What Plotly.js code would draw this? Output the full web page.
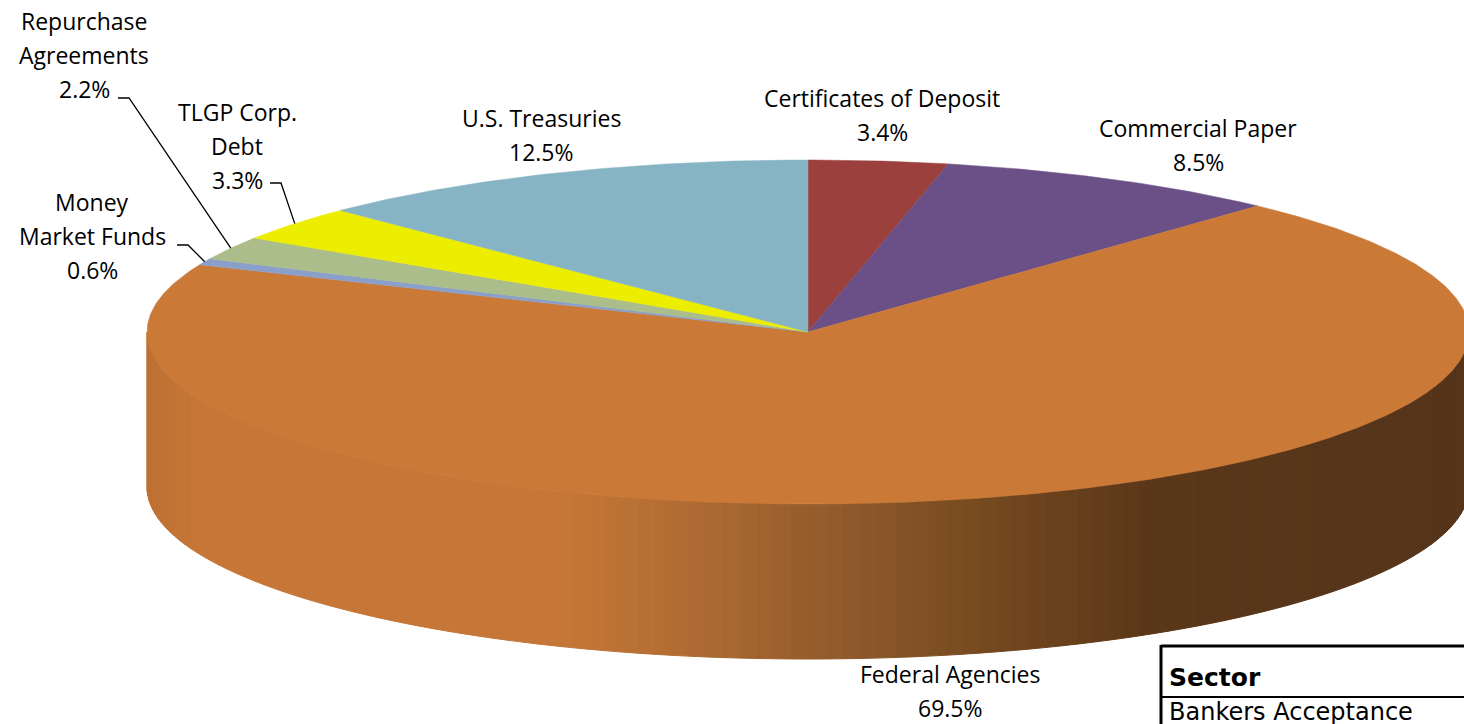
<!DOCTYPE html>
<html>
<head>
<meta charset="utf-8">
<script src="https://cdn.plot.ly/plotly-3.0.1.min.js"></script>
<style>html,body{margin:0;padding:0;background:#fff;}#chart{width:1464px;height:724px;}</style>
</head>
<body>
<div id="chart"></div>
<script>
// ---- data ----
const categories = ['Certificates of Deposit', 'Commercial Paper', 'Federal Agencies', 'Money Market Funds', 'Repurchase Agreements', 'TLGP Corp. Debt', 'U.S. Treasuries'];
const values = [3.4, 8.5, 69.5, 0.6, 2.2, 3.3, 12.5];
const labelLines = [['Certificates of Deposit'], ['Commercial Paper'], ['Federal Agencies'], ['Money', 'Market Funds'], ['Repurchase', 'Agreements'], ['TLGP Corp.', 'Debt'], ['U.S. Treasuries']];
const tableHeader = ['Sector'];
const tableRows = ['Bankers Acceptance'];

// ---- styling / layout ----
const colors = ['#9C403E', '#6A5087', '#CA7937', '#8A9FC9', '#AABD8B', '#EDED00', '#87B4C5'];
const labelPos = [[882, 98], [1198, 128], [950, 674], [92, 202], [84, 21], [237, 112], [541, 118]];
const lineGap = 34;
const leader = [null, null, null, [177, 245], [118, 98], [270, 183], null];
const cx = 808, cy = 332, rx = 661, ry = 172, depth = 155;

function pt(deg, dy) {
  const r = deg * Math.PI / 180;
  return [cx + rx * Math.sin(r), cy - ry * Math.cos(r) + (dy || 0)];
}
function hex(c) { return [parseInt(c.slice(1, 3), 16), parseInt(c.slice(3, 5), 16), parseInt(c.slice(5, 7), 16)]; }
const shadeStops = [[140, '#BC6F32'], [200, '#C67737'], [560, '#C67737'], [700, '#AD6A32'], [850, '#8E592B'], [1000, '#73471F'], [1150, '#5A3719'], [1470, '#55341A']];
function shade(x) {
  for (let i = 0; i < shadeStops.length - 1; i++) {
    const [x0, c0] = shadeStops[i], [x1, c1] = shadeStops[i + 1];
    if (x <= x1) {
      const t = Math.max(0, Math.min(1, (x - x0) / (x1 - x0)));
      const a = hex(c0), b = hex(c1);
      return 'rgb(' + a.map((v, k) => Math.round(v + (b[k] - v) * t)).join(',') + ')';
    }
  }
  return shadeStops[shadeStops.length - 1][1];
}

const traces = [];
const total = values.reduce((a, b) => a + b, 0);
const starts = [];
let acc = 0;
values.forEach(v => { starts.push(acc / total * 360); acc += v; });
// side wall (front half of the disc)
const step = 1.5;
for (let a = 90; a < 270; a += step) {
  const b = Math.min(a + step, 270);
  const mid = (a + b) / 2;
  let idx = 0;
  for (let i = 0; i < values.length; i++) if (mid >= starts[i]) idx = i;
  const p1 = pt(a), p2 = pt(b), p3 = pt(b, depth), p4 = pt(a, depth);
  const col = idx === 2 ? shade((p1[0] + p2[0]) / 2) : colors[idx];
  traces.push({
    type: 'scatter', mode: 'lines', fill: 'toself', hoverinfo: 'skip',
    x: [p1[0], p2[0], p3[0], p4[0], p1[0]], y: [p1[1], p2[1], p3[1], p4[1], p1[1]],
    fillcolor: col, line: { color: col, width: 1 }
  });
}
// top face slices
values.forEach((v, i) => {
  const a0 = starts[i], a1 = starts[i] + v / total * 360;
  const xs = [cx], ys = [cy];
  for (let a = a0; a < a1; a += 0.5) { const p = pt(a); xs.push(p[0]); ys.push(p[1]); }
  const pe = pt(a1); xs.push(pe[0]); ys.push(pe[1]);
  xs.push(cx); ys.push(cy);
  traces.push({
    type: 'scatter', mode: 'lines', fill: 'toself', hoverinfo: 'skip', name: categories[i],
    x: xs, y: ys, fillcolor: colors[i], line: { color: colors[i], width: 0.5 }
  });
});

// labels
const annotations = [];
const shapes = [];
const lblFont = { family: 'Open Sans', size: 23, color: '#000' };
values.forEach((v, i) => {
  const lines = labelLines[i].concat([v.toFixed(1) + '%']);
  lines.forEach((t, k) => {
    annotations.push({ x: labelPos[i][0], y: labelPos[i][1] + k * lineGap, xref: 'x', yref: 'y', text: t, showarrow: false, xanchor: 'center', yanchor: 'middle', font: lblFont });
  });
  if (leader[i]) {
    const midA = starts[i] + v / total * 180;
    const e = pt(midA);
    const [lx, ly] = leader[i];
    shapes.push({ type: 'path', xref: 'x', yref: 'y', path: `M ${lx} ${ly} L ${lx + 11} ${ly} L ${e[0]} ${e[1]}`, line: { color: '#000', width: 1.3 } });
  }
});

// table (partially visible at bottom right)
const tx = 1161, ty = 646, rowH = 51;
shapes.push({ type: 'line', xref: 'x', yref: 'y', x0: tx, x1: 1466, y0: ty, y1: ty, line: { color: '#000', width: 3 } });
shapes.push({ type: 'line', xref: 'x', yref: 'y', x0: tx, x1: 1466, y0: ty + rowH, y1: ty + rowH, line: { color: '#000', width: 2 } });
shapes.push({ type: 'line', xref: 'x', yref: 'y', x0: tx, x1: tx, y0: ty - 1, y1: 730, line: { color: '#000', width: 3 } });
annotations.push({ x: tx + 6, y: ty + 31, xref: 'x', yref: 'y', text: '<b>' + tableHeader[0] + '</b>', showarrow: false, xanchor: 'left', yanchor: 'middle', font: { family: 'DejaVu Sans', size: 25, color: '#000' } });
tableRows.forEach((r, k) => {
  annotations.push({ x: tx + 6, y: ty + rowH + 15 + k * rowH, xref: 'x', yref: 'y', text: r, showarrow: false, xanchor: 'left', yanchor: 'middle', font: { family: 'DejaVu Sans', size: 24, color: '#000' } });
});

const layout = {
  width: 1464, height: 724,
  margin: { l: 0, r: 0, t: 0, b: 0 },
  paper_bgcolor: '#fff', plot_bgcolor: '#fff',
  showlegend: false,
  xaxis: { range: [0, 1464], visible: false, fixedrange: true },
  yaxis: { range: [724, 0], visible: false, fixedrange: true },
  annotations: annotations,
  shapes: shapes
};
Plotly.newPlot('chart', traces, layout, { displayModeBar: false, staticPlot: true });
</script>
</body>
</html>
